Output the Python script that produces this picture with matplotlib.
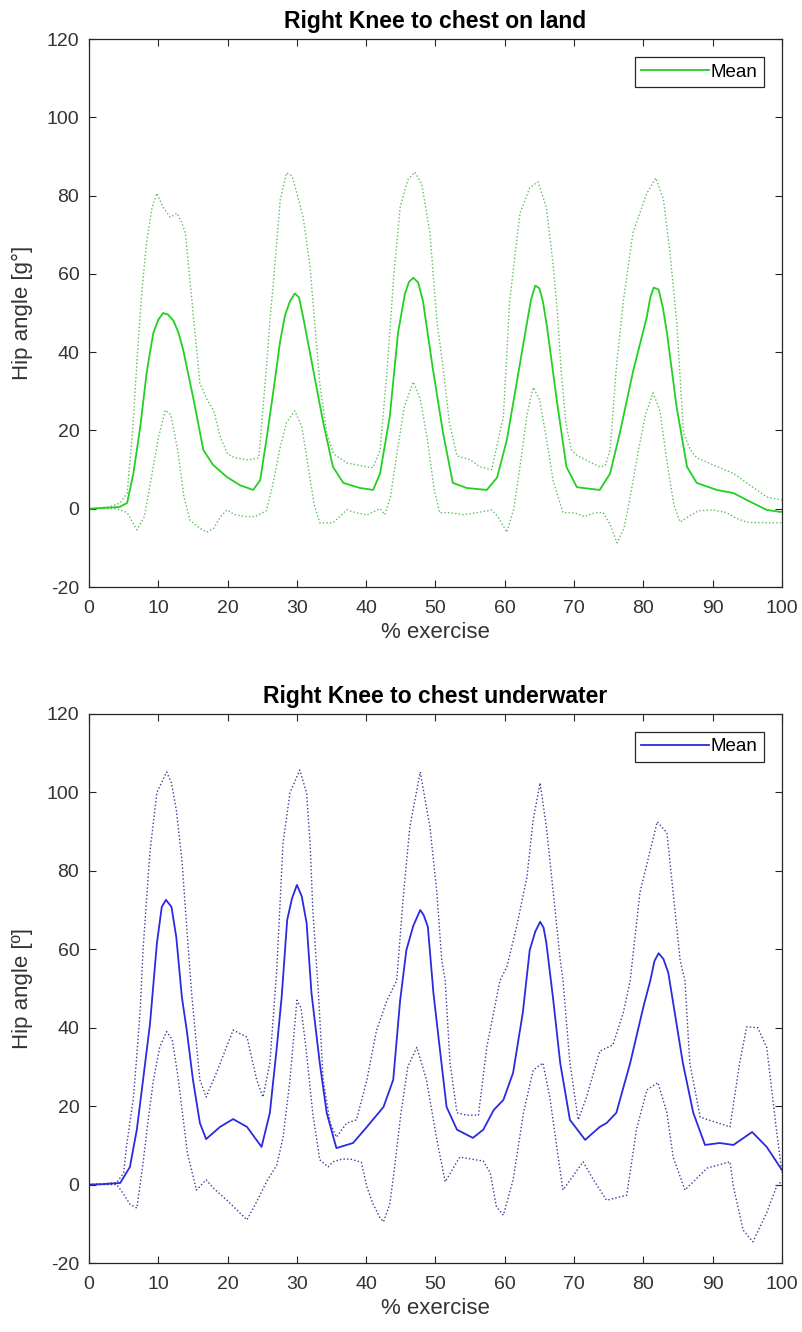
import matplotlib
matplotlib.use("Agg")
import matplotlib.pyplot as plt

plt.rcParams['font.family'] = ['Liberation Sans', 'DejaVu Sans']
plt.rcParams['axes.unicode_minus'] = False

# ---- land (top panel) ----
land_mean_x = [0, 2, 4, 4.5, 5.5, 6.4, 7.4, 8.3, 8.8, 9.3, 10.0, 10.7, 11.4, 12.2, 12.9, 13.6, 15.1, 16.5,
               17.9, 19.9, 21.8, 23.7, 24.7, 25.6, 26.6, 27.6, 28.3, 29.0, 29.7, 30.3, 30.9, 32.3, 33.8,
               35.2, 36.7, 39.1, 41.0, 42.0, 43.4, 44.6, 45.6, 46.2, 46.8, 47.5, 48.2, 49.6, 51.1, 52.5,
               54.5, 57.4, 58.9, 60.3, 61.7, 63.2, 63.8, 64.4, 65.0, 65.5, 66.1, 67.5, 68.9, 70.4, 73.7,
               75.2, 76.6, 78.5, 80.5, 81.0, 81.5, 82.2, 82.8, 83.4, 84.8, 86.3, 87.7, 90.6, 93.0, 95.4,
               97.8, 99.7, 100]
land_mean_y = [0, 0.2, 0.4, 0.5, 1.5, 9, 21, 34.5, 40, 45, 48.3, 50, 49.6, 48, 45, 40.5, 27.8, 15,
               11.2, 8.1, 6, 4.8, 7.3, 17.6, 30, 43, 49.5, 53, 55, 54, 49, 36, 22,
               10.7, 6.6, 5.3, 4.8, 9, 23.5, 45, 55, 58, 59, 57.8, 53, 36, 19.3, 6.6,
               5.3, 4.8, 8, 17.6, 32, 47.5, 53.5, 57, 56.3, 53, 46.4, 27.8, 10.7, 5.5, 4.8,
               9, 19.3, 35, 49, 54, 56.5, 56, 51.5, 45, 26, 10.7, 6.6, 4.8, 4, 1.8,
               -0.3, -0.8, -0.8]

land_upper_x = [0, 3, 4.5, 5.5, 6.3, 7.0, 7.6, 8.3, 9.1, 9.8, 10.7, 11.7, 12.7, 13.4, 13.9, 14.6, 16, 17, 18,
                19, 20, 21, 23, 24.5, 25.6, 26.1, 26.6, 27.6, 28.5, 29.3, 30, 30.9, 31.9, 32.3, 33.3, 34.3,
                35.3, 37.2, 40.1, 41, 42, 43, 44, 44.9, 46, 47, 48, 49.2, 50.2, 51.1, 52, 53.1, 55, 56.4,
                58.1, 59.8, 60.7, 62.2, 63.6, 64.8, 66, 67, 67.6, 68.1, 68.8, 69.6, 70.5, 73.7, 74.5, 75.2,
                76.1, 77.1, 78.5, 80.5, 81.8, 82.9, 83.8, 84.8, 85.8, 86.8, 87.7, 93, 97.8, 100]
land_upper_y = [0, 0.5, 1.5, 4, 20, 40, 55, 68, 77, 80.6, 77, 74.5, 75.5, 73, 70.5, 57.7, 32, 28, 25,
                18, 14, 13, 12.5, 13, 36, 48, 57.7, 79, 85.8, 85, 80.6, 74.5, 61.8, 53.3, 32, 19.3,
                14, 11.7, 10.7, 10.5, 15, 35, 60, 77, 84, 86, 83, 70.5, 48, 36, 22, 13.5, 12.5, 10.7,
                10, 23.5, 53, 75.5, 82, 83.5, 77, 62, 50, 36, 22, 15, 13.5, 10.7, 11, 15,
                36, 53, 70.5, 80.6, 84.5, 79, 66, 48, 19.3, 15, 13, 9, 3, 2.2]

land_lower_x = [0, 4, 5.5, 6.9, 8, 9, 10, 11, 11.8, 12.8, 13.7, 14.6, 16, 17, 18, 19, 19.9, 21, 22.5, 24,
                25.6, 26.5, 27.5, 28.5, 29.7, 30.7, 31.7, 32.5, 33.3, 35.2, 37.2, 38.5, 40.1, 42, 42.7,
                43.5, 44.5, 45.5, 46.8, 47.8, 48.8, 49.8, 50.6, 52, 54, 56, 58.1, 59, 60.3, 61.3, 62.3,
                63.2, 64.1, 65, 66, 67, 68.4, 70, 71.5, 73, 74.2, 75.2, 76.2, 77.2, 78.2, 79.3, 80.3,
                81.4, 82.4, 83.4, 84.4, 85.3, 86.5, 88, 90, 92, 93.5, 95, 100]
land_lower_y = [0, 0, -1, -5.4, -2, 8, 18, 25.2, 24, 15, 3, -3, -5, -6, -5, -2, -0.3, -1.5, -2, -2,
                -0.5, 6, 15, 22, 25, 21, 10, 1, -3.6, -3.6, -0.3, -1, -1.6, 0, -1.5,
                3, 15, 26, 32.4, 28, 18, 5, -1, -1, -1.5, -1, -0.3, -2, -6, 0, 12,
                24, 31, 28, 18, 7, -1, -1, -2, -1, -1, -4, -8.7, -5, 4, 15, 24,
                29.6, 25, 12, 1, -3.4, -2, -0.5, -0.3, -1, -2.5, -3.5, -3.6]

# ---- underwater (bottom panel) ----
water_mean_x = [0, 2, 4.5, 5.9, 6.9, 7.8, 8.8, 9.8, 10.5, 11.1, 11.9, 12.6, 13.4, 14.1, 15.0, 16.0, 16.9, 18.9,
                20.8, 22.8, 24.9, 26.1, 27.1, 27.8, 28.6, 29.3, 30.0, 30.7, 31.4, 32.1, 33.3, 34.3, 35.7,
                38.1, 40.1, 42.5, 43.9, 44.9, 45.8, 46.8, 47.8, 48.3, 48.9, 49.7, 50.6, 51.6, 53.1, 55.4,
                56.9, 58.4, 59.8, 61.2, 62.6, 63.6, 64.4, 65.1, 65.6, 66.0, 67.0, 68.0, 69.4, 71.6, 73.7,
                74.7, 76.1, 78.1, 80.0, 81.0, 81.6, 82.2, 82.9, 83.6, 85.7, 87.2, 88.9, 91.0, 93.0, 95.7,
                97.8, 100]
water_mean_y = [0, 0.1, 0.4, 4.5, 14, 26.7, 41, 61.6, 70.8, 72.6, 70.8, 63, 47.8, 39.4, 26.7, 15.7, 11.6, 14.7,
                16.7, 14.7, 9.6, 18.3, 35, 47.8, 67.5, 73, 76.4, 73.5, 66.7, 48.9, 31, 18.3, 9.3,
                10.6, 14.7, 19.8, 26.7, 47, 59.8, 66, 70, 68.7, 65.7, 48.9, 35, 19.8, 14, 11.9,
                14, 19, 21.6, 28.5, 43.8, 59.8, 64.5, 67, 65.5, 61.6, 47, 31, 16.5, 11.4, 14.7,
                15.7, 18.3, 31, 45.3, 52, 57, 59, 57.5, 54, 31, 18.3, 10.1, 10.6, 10.1, 13.4,
                9.6, 3.7]

water_upper_x = [0, 4, 5, 5.4, 6.4, 6.9, 7.4, 7.8, 8.8, 9.8, 11.2, 11.9, 12.6, 13.4, 14.1, 14.8, 15.3, 16,
                 16.9, 18.5, 20.8, 22.8, 24.2, 25.1, 26.1, 27.1, 28, 29, 30.4, 31.4, 31.9, 32.3, 33.1,
                 33.8, 34.8, 35.7, 37.2, 38.6, 40.1, 41.5, 43, 44.4, 45.4, 46.3, 47.8, 49.2, 50.2, 50.9,
                 51.4, 52.1, 53.1, 54.5, 56.2, 57.4, 59.3, 60.3, 61.7, 63.2, 64.1, 65.1, 66, 67, 68, 68.4,
                 69.4, 70.6, 71.8, 73.7, 75.6, 77.1, 78.1, 79.5, 81, 82, 83.4, 84.3, 85.3, 86, 86.7, 88.2,
                 92.5, 93.9, 94.9, 96.5, 97.8, 99.2, 100]
water_upper_y = [0, 0.5, 3, 9.6, 22, 33, 45, 60, 85, 100, 105.2, 102.4, 95.5, 82.8, 65.7, 48.9, 39.4, 26.7,
                 22.3, 29, 39.4, 37.6, 26.7, 22.3, 31, 55, 87.1, 99.9, 105.7, 99.9, 87.1, 70, 48.9,
                 26.7, 15.7, 12.1, 15.7, 16.5, 26.7, 39.4, 47, 52, 74.4, 91.2, 105.2, 91.2, 74.4, 57.3,
                 52, 31, 18.3, 17.7, 17.7, 35, 52, 55.5, 65.7, 78.4, 93, 102.4, 91.2, 74.4, 57.3, 52,
                 31, 16.5, 22.3, 34, 35.6, 43.8, 52, 74.4, 85.3, 92.5, 89.7, 74.4, 57.3, 52, 31, 17.2,
                 14.7, 31, 40.2, 40, 35, 14, 3]

water_lower_x = [0, 4, 4.9, 5.9, 6.9, 7.8, 8.5, 9.3, 10.2, 11.2, 12, 12.8, 13.5, 14.2, 15.5, 16.9, 18, 19.9,
                 22.8, 24.3, 25.7, 27.1, 28, 29, 30, 30.6, 31.3, 32.3, 33.3, 34.5, 35.2, 36.5, 37.7, 39.3,
                 40.1, 41, 42, 42.5, 43.4, 44, 45, 46, 47.3, 48.7, 50.2, 51.4, 53.5, 56.9, 57.9, 58.8, 59.8,
                 61.2, 62.7, 64.1, 65.5, 66.5, 67.5, 68.4, 71.3, 72.8, 74.7, 77.6, 79, 80.5, 82.1, 83.4,
                 84.3, 86, 89.2, 92.5, 93, 94.4, 95.8, 97.8, 99.2, 100]
water_lower_y = [0, 0, -2.2, -5, -6, 5.5, 16, 26.7, 35, 39, 37, 28, 18, 8, -1.4, 1.2, -1, -4,
                 -9, -4, 1, 5, 12, 26.7, 47, 45, 35, 18, 6.3, 4.5, 5.8, 6.5, 6.5, 5.7,
                 -0.6, -5, -8.5, -9.5, -5, 3, 18, 30, 35, 26.7, 11.4, 0.7, 7, 6, 3, -5.7, -7.8,
                 1.2, 18.3, 29.2, 31, 22.3, 9.6, -1.4, 5.8, 1.2, -4, -2.7, 14, 24.1, 26, 18.3,
                 7, -1.4, 4.2, 5.8, -0.6, -11.6, -14.6, -7.2, -0.6, 1]

x_ticks = [0, 10, 20, 30, 40, 50, 60, 70, 80, 90, 100]
y_ticks = [-20, 0, 20, 40, 60, 80, 100, 120]

panels = [
    ("Right Knee to chest on land", "Hip angle [g°]", "#22d022", "#5cbf5c",
     land_mean_x, land_mean_y, land_upper_x, land_upper_y, land_lower_x, land_lower_y),
    ("Right Knee to chest underwater", "Hip angle [º]", "#2a2ae0", "#3a3a9a",
     water_mean_x, water_mean_y, water_upper_x, water_upper_y, water_lower_x, water_lower_y),
]

fig = plt.figure(figsize=(8.02, 13.32), dpi=100)
positions = [[0.111, 0.5593, 0.864, 0.4114], [0.111, 0.0518, 0.864, 0.4122]]
axis_col = "#262626"

for pos, p in zip(positions, panels):
    title, ylab, mcol, bcol, mx, my, ux, uy, lx, ly = p
    ax = fig.add_axes(pos)
    ax.plot(ux, uy, color=bcol, lw=1.0, linestyle=(0, (1, 1.6)))
    ax.plot(lx, ly, color=bcol, lw=1.0, linestyle=(0, (1, 1.6)))
    ax.plot(mx, my, color=mcol, lw=1.3, label="Mean", solid_joinstyle="round")
    ax.set_xlim(0, 100)
    ax.set_ylim(-20, 120)
    ax.set_xticks(x_ticks)
    ax.set_yticks(y_ticks)
    ax.tick_params(direction="in", length=5, width=0.8, top=True, right=True,
                   labelsize=14, colors=axis_col, labelcolor="#333333")
    ax.tick_params(axis="x", pad=9)
    ax.tick_params(axis="y", pad=7)
    for s in ax.spines.values():
        s.set_color(axis_col)
        s.set_linewidth(0.9)
    ax.set_title(title, fontsize=16.5, fontweight="bold", pad=8)
    ax.set_xlabel("% exercise", fontsize=16, color="#333333", labelpad=4)
    ax.set_ylabel(ylab, fontsize=16, color="#333333", labelpad=10)
    leg = ax.legend(loc="upper right", fontsize=13.5, fancybox=False, framealpha=1,
                    edgecolor=axis_col, handlelength=3.6, handletextpad=0.1,
                    borderpad=0.35, borderaxespad=0.95)
    leg.get_frame().set_linewidth(0.9)

fig.savefig("out.png", dpi=100)
